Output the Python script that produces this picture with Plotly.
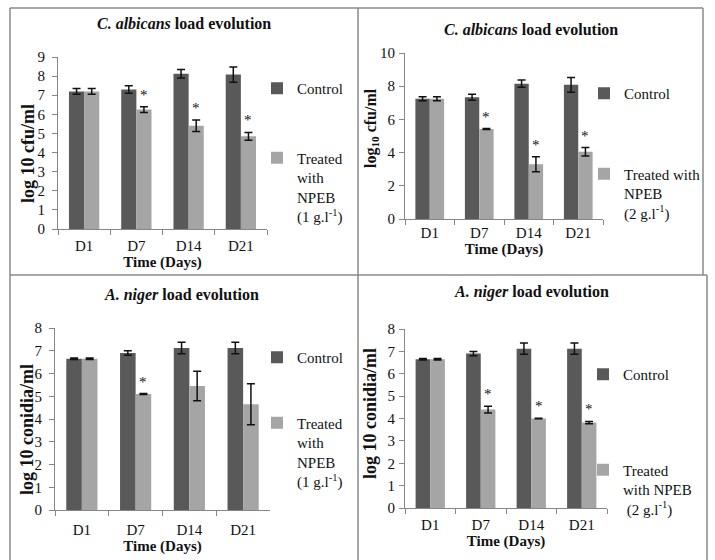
import plotly.graph_objects as go

# ---------------- data ----------------
days = ["D1", "D7", "D14", "D21"]

# Panel 1: C. albicans, NPEB 1 g/l
ca1_control = [7.2, 7.3, 8.12, 8.08]
ca1_control_err = [0.15, 0.2, 0.22, 0.4]
ca1_treated = [7.2, 6.25, 5.4, 4.85]
ca1_treated_err = [0.15, 0.15, 0.3, 0.2]
ca1_sig = ["", "*", "*", "*"]

# Panel 2: C. albicans, NPEB 2 g/l
ca2_control = [7.25, 7.33, 8.15, 8.08]
ca2_control_err = [0.12, 0.18, 0.22, 0.45]
ca2_treated = [7.25, 5.42, 3.3, 4.05]
ca2_treated_err = [0.12, 0.03, 0.45, 0.25]
ca2_sig = ["", "*", "*", "*"]

# Panel 3: A. niger, NPEB 1 g/l
an1_control = [6.65, 6.9, 7.12, 7.12]
an1_control_err = [0.03, 0.1, 0.25, 0.25]
an1_treated = [6.65, 5.1, 5.45, 4.65]
an1_treated_err = [0.03, 0.02, 0.65, 0.9]
an1_sig = ["", "*", "", ""]

# Panel 4: A. niger, NPEB 2 g/l
an2_control = [6.65, 6.9, 7.12, 7.12]
an2_control_err = [0.03, 0.1, 0.25, 0.25]
an2_treated = [6.65, 4.4, 4.0, 3.82]
an2_treated_err = [0.03, 0.15, 0.01, 0.05]
an2_sig = ["", "*", "*", "*"]

titles = ["<b><i>C. albicans</i> load evolution</b>",
          "<b><i>C. albicans</i> load evolution</b>",
          "<b><i>A. niger</i> load evolution</b>",
          "<b><i>A. niger</i> load evolution</b>"]
y_titles = ["<b>log 10 cfu/ml</b>", "<b>log<sub>10</sub> cfu/ml</b>",
            "<b>log 10 conidia/ml</b>", "<b>log 10 conidia/ml</b>"]
x_title = "<b>Time (Days)</b>"
control_name = "Control"
treated_names = ["Treated<br>with<br>NPEB<br>(1 g.l<sup>-1</sup>)",
                 "Treated with<br>NPEB<br>(2 g.l<sup>-1</sup>)",
                 "Treated<br>with<br>NPEB<br>(1 g.l<sup>-1</sup>)",
                 "Treated<br>with NPEB<br>\u00a0(2 g.l<sup>-1</sup>)"]
y_ranges = [(0, 9), (0, 10), (0, 8), (0, 8)]
y_dticks = [1, 2, 1, 1]

# ---------------- layout helpers ----------------
W, H = 715, 560
FONT = "Liberation Serif"
C_DARK = "#595959"
C_LIGHT = "#a5a5a5"
AX_COL = "#868686"
BARGAP = 0.42


def px_x(p):
    return p / W


def px_y(p):
    return 1 - p / H


panels = [
    dict(ctrl=ca1_control, ctrl_e=ca1_control_err, trt=ca1_treated, trt_e=ca1_treated_err, sig=ca1_sig,
         xd=(58, 267), yd=(229, 57), title_xy=(184, 24), leg=(257, 72, 47), tls=4, xtls=3,
         ytitle_xy=(28, 154), ytitle_size=18),
    dict(ctrl=ca2_control, ctrl_e=ca2_control_err, trt=ca2_treated, trt_e=ca2_treated_err, sig=ca2_sig,
         xd=(405, 603), yd=(219, 53), title_xy=(531, 29), leg=(584, 77, 58), tls=1, xtls=0,
         ytitle_xy=(372, 128), ytitle_size=16),
    dict(ctrl=an1_control, ctrl_e=an1_control_err, trt=an1_treated, trt_e=an1_treated_err, sig=an1_sig,
         xd=(55, 270), yd=(510, 328), title_xy=(182, 295), leg=(257, 341, 43), tls=4, xtls=6,
         ytitle_xy=(27, 430), ytitle_size=18),
    dict(ctrl=an2_control, ctrl_e=an2_control_err, trt=an2_treated, trt_e=an2_treated_err, sig=an2_sig,
         xd=(405, 607), yd=(508, 329), title_xy=(531, 292), leg=(583, 358, 73), tls=1, xtls=3,
         ytitle_xy=(370, 414), ytitle_size=18),
]

fig = go.Figure()
annotations = []
layout_upd = {}

for i, p in enumerate(panels):
    n = i + 1
    xa = "x" if n == 1 else f"x{n}"
    ya = "y" if n == 1 else f"y{n}"
    leg = "legend" if n == 1 else f"legend{n}"
    fig.add_trace(go.Bar(
        x=days, y=p["ctrl"], name=control_name, marker=dict(color=C_DARK, line=dict(width=0)),
        error_y=dict(type="data", array=p["ctrl_e"], color="#111111", thickness=1.5, width=4),
        xaxis=xa, yaxis=ya, legend=leg, legendgroup=f"c{n}"))
    fig.add_trace(go.Bar(
        x=days, y=p["trt"], name=treated_names[i], marker=dict(color=C_LIGHT, line=dict(width=0)),
        error_y=dict(type="data", array=p["trt_e"], color="#111111", thickness=1.5, width=4),
        xaxis=xa, yaxis=ya, legend=leg, legendgroup=f"t{n}"))

    xkey = "xaxis" if n == 1 else f"xaxis{n}"
    ykey = "yaxis" if n == 1 else f"yaxis{n}"
    layout_upd[xkey] = dict(
        domain=[px_x(p["xd"][0]), px_x(p["xd"][1])], anchor=ya, automargin=False,
        type="category", showline=True, linecolor=AX_COL, linewidth=1,
        ticks="outside", tickson="boundaries", ticklen=5, tickcolor=AX_COL,
        ticklabelstandoff=p["xtls"],
        tickfont=dict(family=FONT, size=15, color="#111"),
        title=dict(text=x_title, font=dict(family=FONT, size=15, color="#111"), standoff=0),
        showgrid=False, zeroline=False, fixedrange=True)
    layout_upd[ykey] = dict(
        domain=[px_y(p["yd"][0]), px_y(p["yd"][1])], anchor=xa, automargin=False,
        range=list(y_ranges[i]), dtick=y_dticks[i], tick0=0,
        showline=True, linecolor=AX_COL, linewidth=1,
        ticks="outside", ticklen=5, tickcolor=AX_COL,
        ticklabelstandoff=p["tls"],
        tickfont=dict(family=FONT, size=15, color="#111"),
        showgrid=False, zeroline=False, fixedrange=True)
    layout_upd[leg] = dict(
        x=px_x(p["leg"][0]), y=px_y(p["leg"][1]), xanchor="left", yanchor="top",
        bgcolor="rgba(0,0,0,0)", tracegroupgap=p["leg"][2], valign="top",
        traceorder="grouped", borderwidth=0,
        font=dict(family=FONT, size=15, color="#111"))

    # panel title
    annotations.append(dict(
        text=titles[i], xref="paper", yref="paper",
        x=px_x(p["title_xy"][0]), y=px_y(p["title_xy"][1]),
        xanchor="center", yanchor="middle", showarrow=False,
        font=dict(family=FONT, size=16, color="#111")))

    # y axis title (rotated)
    annotations.append(dict(
        text=y_titles[i], xref="paper", yref="paper", textangle=-90,
        x=px_x(p["ytitle_xy"][0]), y=px_y(p["ytitle_xy"][1]),
        xanchor="center", yanchor="middle", showarrow=False,
        font=dict(family=FONT, size=p["ytitle_size"], color="#111")))

    # significance stars above the treated bars
    off = (1 - BARGAP) / 4
    for j, s in enumerate(p["sig"]):
        if s:
            annotations.append(dict(
                text=s, xref=xa, yref=ya, x=j + off, y=p["trt"][j] + p["trt_e"][j],
                xanchor="center", yanchor="bottom", showarrow=False, yshift=2,
                font=dict(family=FONT, size=15, color="#111111")))

# panel borders
BC = "#8a8a8a"
shapes = []
for (x0, y0, x1, y1) in [
    (10, 8, 10, 560),      # left
    (10, 8, 703, 8),       # top
    (358, 8, 358, 560),    # middle vertical
    (10, 275, 707, 275),   # middle horizontal
    (703, 8, 703, 275),    # right top
    (707, 275, 707, 560),  # right bottom
]:
    shapes.append(dict(type="line", xref="paper", yref="paper",
                       x0=px_x(x0), y0=px_y(y0), x1=px_x(x1), y1=px_y(y1),
                       line=dict(color=BC, width=1.5)))

fig.update_layout(
    width=W, height=H, margin=dict(l=0, r=0, t=0, b=0, autoexpand=False),
    paper_bgcolor="white", plot_bgcolor="white",
    barmode="group", bargap=BARGAP, bargroupgap=0,
    font=dict(family=FONT, color="#111"),
    annotations=annotations, shapes=shapes, **layout_upd)

fig.write_html("out.html", config={"displayModeBar": False},
               post_script="document.body.style.margin='0';document.body.style.overflow='hidden';")
